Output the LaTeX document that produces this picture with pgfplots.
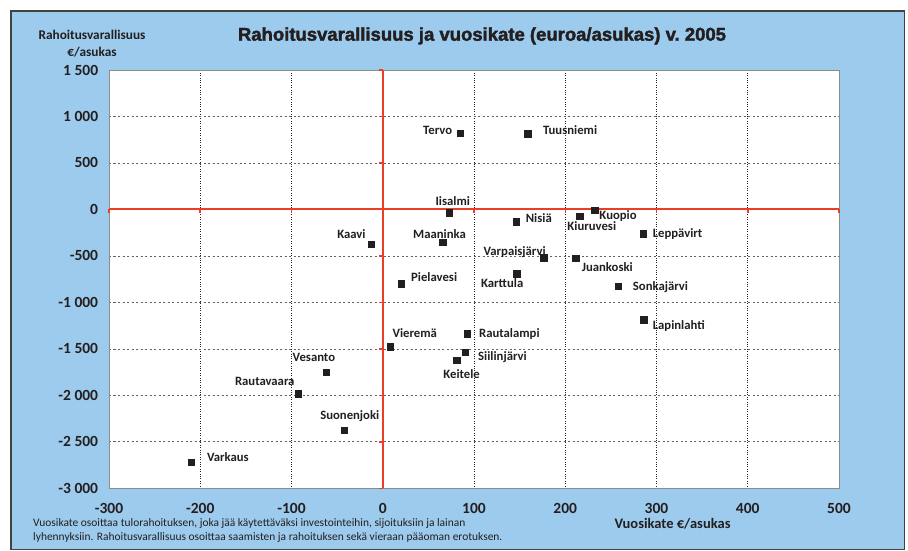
\documentclass[border=0pt]{standalone}
\usepackage{fontspec}
\setmainfont{Carlito}
\newfontfamily\titlefont[BoldFeatures={FakeBold=2}]{Liberation Sans}
\usepackage{pgfplots}
\pgfplotsset{compat=1.18}
\usepackage{pgfplotstable}
\definecolor{bgblue}{RGB}{157,203,237}
\definecolor{redline}{RGB}{234,62,40}
\definecolor{ink}{RGB}{35,31,32}

% h: 0 = label left-aligned (west), 1 = centred, 2 = right-aligned (east)
\pgfplotstableread[col sep=comma]{
x,y,name,h,dx,dy
84.7,821,Tervo,2,-7.7,2.5
159,814,Tuusniemi,0,15,3.2
72.9,-36,Iisalmi,1,3.5,11.5
-12.5,-375,Kaavi,2,-5.6,10.1
65.7,-350,Maaninka,1,-3.2,7.8
20,-799,Pielavesi,0,10,6.4
8.3,-1477,Vieremä,0,2,13.2
-62.2,-1749,Vesanto,2,9.3,14.5
-92.9,-1983,Rautavaara,2,-3.3,12.2
-42.5,-2377,Suonenjoki,1,5.8,14.5
-210,-2720,Varkaus,0,15.7,5
146,-132,Nisiä,0,9.7,3.7
176.3,-519,Varpaisjärvi,2,2.3,6.2
146.8,-692,Karttula,1,-14.5,-10.1
215.8,-71,Kiuruvesi,0,-12.4,-10.3
232.2,-6,Kuopio,0,4.6,-5.6
285.5,-261,Leppävirt,0,9.3,0
211.4,-526,Juankoski,0,6,-9.5
258.2,-824,Sonkajärvi,0,14.4,0
285.9,-1186,Lapinlahti,0,9,-5.8
92.6,-1337,Rautalampi,0,11.7,0
90.5,-1537,Siilinjärvi,0,12.7,-3.9
81,-1620,Keitele,1,5,-14.5
}\datatab

\pgfplotsset{
  lblplot/.style 2 args={only marks, mark=square*, mark size=3.2pt,
    mark options={fill=ink, draw=ink},
    point meta=explicit symbolic,
    restrict expr to domain={\thisrow{h}}{#2},
    visualization depends on={\thisrow{dx}\as\mydx},
    visualization depends on={\thisrow{dy}\as\mydy},
    nodes near coords,
    every node near coord/.append style={anchor=#1, xshift=\mydx pt, yshift=\mydy pt,
      inner sep=0pt, text height=8pt, text depth=0pt, text=ink,
      font=\bfseries\fontsize{12.7}{12.7}\selectfont}},
}

\begin{document}
\begin{tikzpicture}[x=1pt,y=1pt]
\useasboundingbox (0,0) rectangle (908,550);
\fill[bgblue, draw=ink!85, line width=1.2pt] (11,0.6) rectangle (904.3,539);
\begin{axis}[
  at={(109pt,61.7pt)}, anchor=south west,
  scale only axis, width=730pt, height=418.3pt,
  xmin=-300, xmax=500, ymin=-3000, ymax=1500,
  xtick={-300,-200,...,500},
  xticklabels={-300,-200,-100,0,100,200,300,400,500},
  ytick={-3000,-2500,...,1500},
  yticklabels={{-3 000},{-2 500},{-2 000},{-1 500},{-1 000},{-500},{0},{500},{1 000},{1 500}},
  grid=major,
  major x grid style={ink, dotted, line width=0.8pt},
  major y grid style={ink!70, dash pattern=on 2pt off 2.5pt, line width=0.7pt},
  axis line style={black!45, line width=0.9pt},
  major tick length=0pt, tick style={draw=none},
  axis background/.style={fill=white},
  xticklabel style={font=\bfseries\fontsize{15.5}{15.5}\selectfont, text=ink, inner sep=0pt, text height=10pt, text depth=0pt, yshift=-15pt},
  yticklabel style={font=\bfseries\fontsize{15.5}{15.5}\selectfont, text=ink, inner sep=0pt, text height=10pt, text depth=0pt, xshift=-10.7pt},
  clip=false,
]
\addplot[redline, line width=2pt] coordinates {(-300,0) (500,0)};
\addplot[redline, line width=2pt] coordinates {(0,-3000) (0,1500)};
\pgfplotsinvokeforeach{-300,-200,-100,100,200,300,400,500}{
  \draw[redline, line width=1.5pt] (axis cs:#1,0) -- ++(0pt,-3.5pt);
}
\pgfplotsinvokeforeach{-3000,-2500,-2000,-1500,-1000,-500,500,1000,1500}{
  \draw[redline, line width=1.5pt] (axis cs:0,#1) -- ++(-4pt,0pt);
}
\addplot[lblplot={west}{-0.5:0.5}] table[x=x, y=y, meta=name] {\datatab};
\addplot[lblplot={center}{0.5:1.5}] table[x=x, y=y, meta=name] {\datatab};
\addplot[lblplot={east}{1.5:2.5}] table[x=x, y=y, meta=name] {\datatab};
\end{axis}
\node[anchor=base, text=ink, font=\titlefont\bfseries\fontsize{18.5}{18.5}\selectfont] at (482,509.3) {Rahoitusvarallisuus ja vuosikate (euroa/asukas) v.~2005};
\node[anchor=base, text=ink, font=\bfseries\fontsize{13.3}{13.3}\selectfont] at (92,510) {Rahoitusvarallisuus};
\node[anchor=base, text=ink, font=\bfseries\fontsize{13.3}{13.3}\selectfont] at (92,493.3) {€/asukas};
\node[anchor=base, text=ink, font=\bfseries\fontsize{14.5}{14.5}\selectfont] at (672.5,22) {Vuosikate €/asukas};
\node[anchor=base west, inner sep=0pt, text=ink, font=\fontsize{11.45}{11.45}\selectfont] at (33,23.3) {Vuosikate osoittaa tulorahoituksen, joka jää käytettäväksi investointeihin, sijoituksiin ja lainan};
\node[anchor=base west, inner sep=0pt, text=ink, font=\fontsize{11.45}{11.45}\selectfont] at (33,9.3) {lyhennyksiin. Rahoitusvarallisuus osoittaa saamisten ja rahoituksen sekä vieraan pääoman erotuksen.};
\end{tikzpicture}
\end{document}
